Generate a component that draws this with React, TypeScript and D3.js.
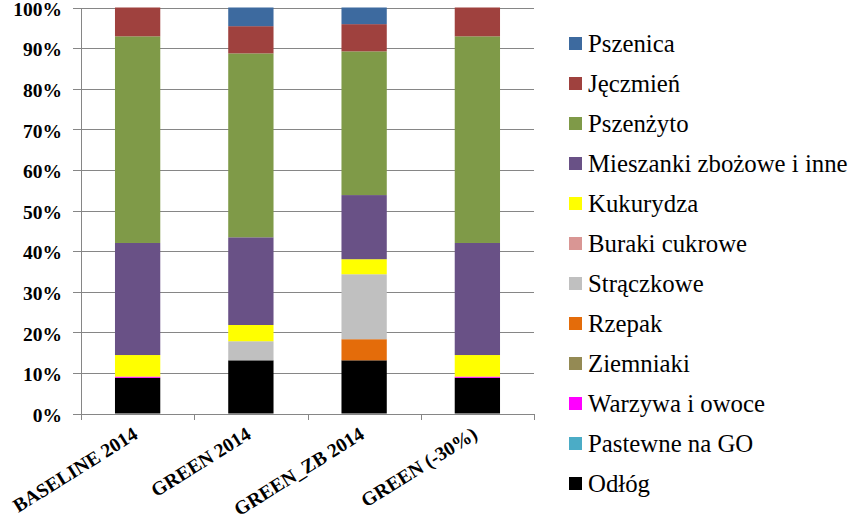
import React from "react";
import * as d3 from "d3";

const categories = ["BASELINE 2014", "GREEN 2014", "GREEN_ZB 2014", "GREEN (-30%)"];

// stacking order bottom -> top
const seriesNames = [
  "Odłóg",
  "Pastewne na GO",
  "Warzywa i owoce",
  "Ziemniaki",
  "Rzepak",
  "Strączkowe",
  "Buraki cukrowe",
  "Kukurydza",
  "Mieszanki zbożowe i inne",
  "Pszenżyto",
  "Jęczmień",
  "Pszenica",
];

const seriesColors = [
  "#000000",
  "#4BACC6",
  "#FF00FF",
  "#948A54",
  "#E46C0A",
  "#C0C0C0",
  "#D99694",
  "#FFFF00",
  "#695186",
  "#7F9A48",
  "#9F413E",
  "#3D6A9F",
];

// values per series (percent), one per category
const odlog = [8.8, 13.1, 13.1, 8.8];
const pastewne = [0, 0, 0, 0];
const warzywa = [0.3, 0, 0, 0.3];
const ziemniaki = [0, 0, 0, 0];
const rzepak = [0, 0, 5.2, 0];
const straczkowe = [0, 4.7, 16.0, 0];
const buraki = [0, 0, 0, 0];
const kukurydza = [5.3, 4.0, 3.7, 5.3];
const mieszanki = [27.6, 21.6, 15.8, 27.6];
const pszenzyto = [50.9, 45.3, 35.4, 50.9];
const jeczmien = [7.1, 6.7, 6.7, 7.1];
const pszenica = [0, 4.6, 4.1, 0];

const seriesValues = [
  odlog, pastewne, warzywa, ziemniaki, rzepak, straczkowe,
  buraki, kukurydza, mieszanki, pszenzyto, jeczmien, pszenica,
];

const yTicks = [0, 0.1, 0.2, 0.3, 0.4, 0.5, 0.6, 0.7, 0.8, 0.9, 1.0];

const W = 850;
const H = 519;
const plotL = 81;
const plotR = 534;
const plotT = 7.5;
const plotB = 413.5;
const font = "Liberation Serif, Times New Roman, Tinos, serif";
const axisColor = "#868686";

export default function App() {
  const rows = categories.map((c, i) => {
    const r: Record<string, any> = { cat: c };
    seriesNames.forEach((s, k) => (r[s] = seriesValues[k][i]));
    return r;
  });
  const stacked = d3.stack<any>().keys(seriesNames).offset(d3.stackOffsetExpand)(rows);

  const x = d3.scaleBand<string>().domain(categories).range([plotL, plotR]).paddingInner(0.6).paddingOuter(0.3);
  const y = d3.scaleLinear().domain([0, 1]).range([plotB, plotT]);
  const fmt = d3.format(".0%");
  const step = x.step();
  const boundaries = d3.range(categories.length + 1).map((i) => plotL + i * step);

  return (
    <svg width={W} height={H} style={{ position: "absolute", left: 0, top: 0, background: "#fff", fontFamily: font }}>
      {/* gridlines */}
      {yTicks.map((t) => (
        <line key={"g" + t} x1={plotL - 8} x2={plotR} y1={Math.round(y(t)) + 0.5} y2={Math.round(y(t)) + 0.5} stroke={axisColor} strokeWidth={1} />
      ))}
      {/* bars */}
      {stacked.map((s, k) => (
        <g key={seriesNames[k]} fill={seriesColors[k]}>
          {s.map((d, i) => {
            const h = y(d[0]) - y(d[1]);
            if (h <= 0) return null;
            return <rect key={i} x={x(categories[i])!} y={y(d[1])} width={x.bandwidth()} height={h} />;
          })}
        </g>
      ))}
      {/* y axis */}
      <line x1={plotL + 0.5} x2={plotL + 0.5} y1={Math.round(plotT)} y2={Math.round(plotB) + 1} stroke={axisColor} />
      {/* x axis */}
      <line x1={plotL} x2={plotR} y1={Math.round(plotB) + 0.5} y2={Math.round(plotB) + 0.5} stroke={axisColor} />
      {boundaries.map((bx, i) => (
        <line key={"xt" + i} x1={Math.round(bx) + 0.5} x2={Math.round(bx) + 0.5} y1={Math.round(plotB)} y2={Math.round(plotB) + 6} stroke={axisColor} />
      ))}
      {/* y labels */}
      {yTicks.map((t) => (
        <text key={"yl" + t} x={62} y={y(t) + 1.5} dy="0.35em" textAnchor="end" style={{ fontFamily: font, fontWeight: 700, fontSize: "19.5px" }} fill="#000">
          {fmt(t)}
        </text>
      ))}
      {/* x labels */}
      {categories.map((c) => {
        const cx = x(c)! + x.bandwidth() / 2 + 1.5;
        const cy = plotB + 24;
        return (
          <text key={"xl" + c} transform={`translate(${cx},${cy}) rotate(-32)`} textAnchor="end" style={{ fontFamily: font, fontWeight: 700, fontSize: "19.5px" }} fill="#000">
            {c}
          </text>
        );
      })}
      {/* legend */}
      {seriesNames.slice().reverse().map((s, j) => {
        const k = seriesNames.length - 1 - j;
        const cy = 43.5 + j * 40;
        return (
          <g key={"lg" + s}>
            <rect x={569} y={cy - 6.5} width={13} height={13} fill={seriesColors[k]} />
            <text x={588} y={cy + 8} style={{ fontFamily: font, fontWeight: 400, fontSize: "24.8px" }} fill="#000">{s}</text>
          </g>
        );
      })}
    </svg>
  );
}
